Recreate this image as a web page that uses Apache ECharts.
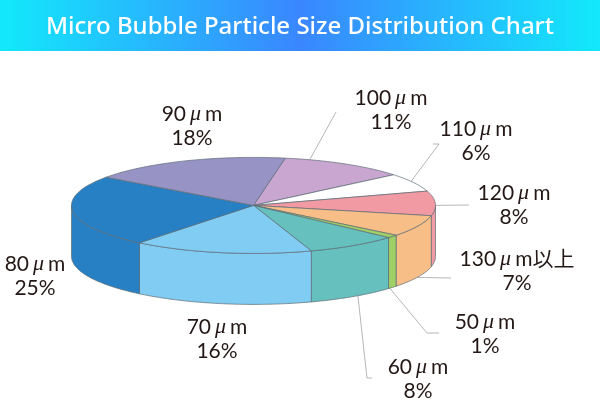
<!DOCTYPE html>
<html><head><meta charset="utf-8">
<style>html,body{margin:0;padding:0;background:#fff}#c{width:600px;height:404px}</style>
<script src="https://cdn.jsdelivr.net/npm/echarts@6/dist/echarts.min.js"></script>
</head><body><div id="c"></div>
<script>
var titleText = 'Micro Bubble Particle Size Distribution Chart';
var sizes = ['100', '110', '120', '130', '50', '60', '70', '80', '90'];
var suffixes = ['', '', '', '以上', '', '', '', '', ''];
var percents = [11, 6, 8, 7, 1, 8, 16, 25, 18];
var colors = ['#c9a6cf', '#ffffff', '#f19aa3', '#f8be87', '#a0cf66', '#66c0be', '#80ccf3', '#2780c4', '#9794c5'];

// layout (pixels / degrees)
var CX = 253.5, CY = 205.4, RX = 182, RY = 48, DEPTH = 51, START = -78, WARP = 2;
var labelX = [391, 476, 514, 517, 485, 418, 217, 35, 192];
var labelY = [110, 141, 205, 271, 334, 379, 339, 276, 126];
var leaders = [
  {t: -72, d: 0, pts: [[336, 112]]},
  {t: -30, d: 0, pts: [[439, 144], [433, 144]]},
  {t: 0, d: 0, pts: [[469, 205]]},
  {t: 26, d: 1, pts: [[451, 278]]},
  {t: 41.5, d: 1, pts: [[427, 333], [439, 333]]},
  {t: 55, d: 1, pts: [[367, 378], [372, 378]]},
  null, null, null
];
var EDGE = '#5d6b75', LEAD = '#a3a3a3', INK = '#231815';

function rim(deg, drop) {
  var a = deg * Math.PI / 180;
  return [CX + RX * Math.cos(a), CY + RY * Math.sin(a) + drop];
}
// slice angle -> point on the rim, with the slight foreshortening of the tilted view
function project(deg, drop) {
  return rim(deg + WARP * Math.sin(deg * Math.PI / 180), drop);
}
function arc(a, b, drop) {
  var out = [], n = Math.max(1, Math.ceil(Math.abs(b - a)));
  for (var i = 0; i <= n; i++) out.push(project(a + (b - a) * i / n, drop));
  return out;
}
var total = percents.reduce(function (s, v) { return s + v; }, 0);
var cursor = START;
var sliceData = percents.map(function (v) {
  var from = cursor; cursor += v / total * 360;
  return [from, cursor];
});

function renderItem(params, api) {
  var i = params.dataIndex, from = api.value(0), to = api.value(1), kids = [];
  // front wall: portion of the slice on the near half of the ellipse
  [[0, 180], [360, 540]].forEach(function (w) {
    var a = Math.max(from, w[0]), b = Math.min(to, w[1]);
    if (b > a) {
      kids.push({type: 'polygon', z2: 1,
        shape: {points: arc(a, b, 0).concat(arc(b, a, DEPTH))},
        style: {fill: colors[i], stroke: EDGE, lineWidth: 0.7}});
    }
  });
  // top face
  kids.push({type: 'polygon', z2: 2,
    shape: {points: [[CX, CY]].concat(arc(from, to, 0))},
    style: {fill: colors[i], stroke: EDGE, lineWidth: 0.7}});
  // leader
  var L = leaders[i];
  if (L) {
    kids.push({type: 'polyline', z2: 0,
      shape: {points: [rim(L.t, L.d * DEPTH)].concat(L.pts)},
      style: {fill: null, stroke: LEAD, lineWidth: 0.8}});
  }
  // label
  kids.push({type: 'text', z2: 3, x: labelX[i], y: labelY[i],
    style: {
      text: '{n|' + sizes[i] + '}{u|μ}{n|m' + suffixes[i] + '}\n{n|' + percents[i] + '%}',
      align: 'center', verticalAlign: 'middle',
      rich: {
        n: {fontFamily: 'Lato, "Noto Sans CJK JP"', fontSize: 21, fill: INK, lineHeight: 24},
        u: {fontFamily: '"Liberation Serif"', fontStyle: 'italic', fontSize: 22, fill: INK, lineHeight: 24, padding: [0, 4, 0, 4]}
      }
    }});
  return {type: 'group', children: kids};
}

var chart = echarts.init(document.getElementById('c'), null, {renderer: 'canvas'});
chart.setOption({
  animation: false,
  backgroundColor: '#ffffff',
  graphic: [{type: 'rect', z: -1, shape: {x: 0, y: 0, width: 600, height: 51},
    style: {fill: new echarts.graphic.LinearGradient(0, 0, 1, 0, [
      {offset: 0, color: '#12e9fb'}, {offset: 0.5, color: '#3a86ff'}, {offset: 1, color: '#12e9fb'}])}}],
  title: {text: titleText, left: 'center', top: 10,
    textStyle: {color: '#fff', fontFamily: '"Noto Sans"', fontWeight: 500, fontSize: 24}},
  series: [{type: 'custom', coordinateSystem: 'none', silent: true,
    data: sliceData, renderItem: renderItem}]
});
</script></body></html>
